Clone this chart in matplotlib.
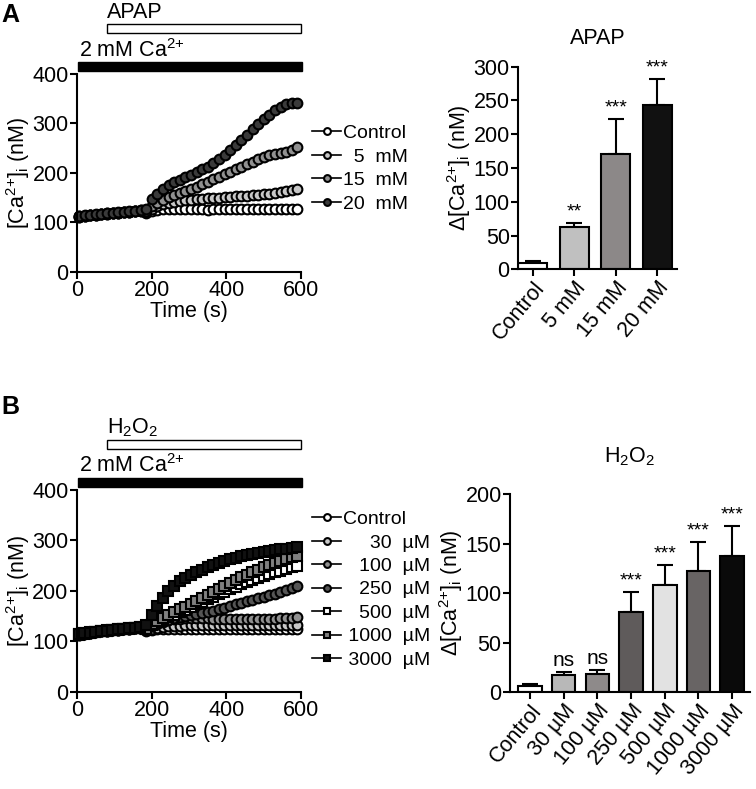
import numpy as np
import matplotlib
matplotlib.use("Agg")
from matplotlib import pyplot as plt
from matplotlib.patches import Rectangle
from matplotlib import transforms

plt.rcParams['font.family'] = ['Liberation Sans', 'DejaVu Sans']
plt.rcParams['mathtext.fontset'] = 'custom'
plt.rcParams['mathtext.rm'] = 'Liberation Sans'
plt.rcParams['mathtext.it'] = 'Liberation Sans:italic'
plt.rcParams['axes.linewidth'] = 1.5

# sample times (s)
time_s = [5, 20, 35, 50, 65, 80, 95, 110, 125, 140, 155, 170, 185, 200, 215, 230, 245, 260, 275, 290,
          305, 320, 335, 350, 365, 380, 395, 410, 425, 440, 455, 470, 485, 500, 515, 530, 545, 560, 575, 590]

# ---- panel A: APAP traces
apap_labels = ['Control', '  5  mM', '15  mM', '20  mM']
apap_ctrl = [112, 114, 115, 116, 117, 118, 119, 120, 121, 122, 123, 124,
             120, 124, 126, 127, 127, 128, 127, 127, 128, 127, 127, 126, 127, 128, 127, 127, 128, 127,
             127, 128, 127, 127, 128, 127, 127, 128, 127, 127]
apap_5 = [113, 114, 115, 116, 117, 118, 119, 120, 121, 122, 123, 124,
          121, 128, 133, 137, 140, 142, 143, 145, 146, 147, 148, 149, 150, 150, 151, 152, 153, 153,
          154, 155, 156, 157, 157, 159, 162, 164, 166, 168]
apap_15 = [112, 114, 116, 116, 117, 119, 119, 120, 122, 122, 124, 125,
           123, 133, 140, 146, 151, 156, 160, 164, 168, 172, 177, 182, 187, 192, 197, 202, 207, 213,
           218, 223, 228, 233, 236, 239, 241, 243, 246, 252]
apap_20 = [113, 115, 116, 117, 118, 119, 120, 121, 122, 123, 124, 126,
           128, 148, 158, 167, 175, 181, 186, 191, 196, 201, 207, 213, 220, 228, 237, 246, 256, 266,
           277, 288, 298, 309, 318, 327, 334, 339, 341, 342]
apap_traces = [apap_ctrl, apap_5, apap_15, apap_20]
apap_faces = ['white', '#c8c8c8', '#909090', '#3a3a3a']

# ---- panel A: APAP bars
apap_cats = ['Control', '5 mM', '15 mM', '20 mM']
apap_mean = [10, 62, 170, 243]
apap_err = [3, 7, 52, 39]
apap_sig = ['', '**', '***', '***']
apap_bar_colors = ['white', '#c0c0c0', '#8c8888', '#111111']

# ---- panel B: H2O2 traces
h2o2_labels = ['Control', '     30  µM', '   100  µM', '   250  µM', '   500  µM', ' 1000  µM', ' 3000  µM']
h2o2_ctrl = [113, 115, 117, 118, 120, 121, 122, 123, 124, 125, 126, 127,
             121, 123, 124, 124, 125, 125, 124, 125, 125, 124, 125, 125, 124, 125, 125, 124, 125, 125,
             124, 125, 125, 124, 125, 125, 124, 125, 125, 124]
h2o2_30 = [114, 116, 117, 119, 120, 121, 122, 124, 124, 125, 127, 127,
           122, 125, 127, 129, 130, 131, 131, 132, 132, 132, 132, 133, 132, 132, 133, 132, 132, 133,
           132, 132, 133, 132, 132, 133, 133, 132, 133, 132]
h2o2_100 = [113, 115, 117, 118, 120, 122, 122, 123, 125, 125, 126, 128,
            124, 130, 135, 139, 142, 144, 145, 146, 146, 146, 146, 146, 145, 145, 145, 145, 144, 144,
            144, 144, 144, 145, 145, 145, 146, 146, 147, 148]
h2o2_250 = [114, 115, 117, 119, 120, 121, 123, 123, 124, 126, 126, 127,
            124, 131, 136, 140, 143, 146, 148, 150, 152, 154, 156, 158, 161, 164, 167, 170, 173, 176,
            179, 182, 185, 188, 191, 194, 198, 202, 206, 210]
h2o2_500 = [113, 116, 117, 118, 121, 121, 122, 124, 124, 125, 127, 127,
            124, 132, 138, 143, 148, 153, 158, 163, 168, 173, 178, 183, 188, 193, 198, 203, 208, 213,
            217, 221, 225, 229, 233, 237, 240, 244, 247, 250]
h2o2_1000 = [114, 115, 118, 119, 120, 122, 122, 123, 125, 126, 126, 128,
             125, 134, 141, 147, 153, 159, 164, 169, 174, 179, 185, 191, 197, 203, 209, 215, 221, 227,
             232, 237, 242, 247, 251, 255, 259, 263, 267, 270]
h2o2_3000 = [114, 116, 117, 119, 120, 121, 123, 124, 125, 126, 127, 128,
             132, 152, 170, 186, 199, 210, 219, 226, 232, 237, 242, 247, 251, 255, 259, 263, 266, 269,
             272, 274, 276, 278, 280, 281, 283, 284, 286, 287]
h2o2_traces = [h2o2_ctrl, h2o2_30, h2o2_100, h2o2_250, h2o2_500, h2o2_1000, h2o2_3000]
h2o2_faces = ['white', '#c8c8c8', '#909090', '#555555', 'white', '#808080', '#111111']
h2o2_markers = ['o', 'o', 'o', 'o', 's', 's', 's']

# ---- panel B: H2O2 bars
h2o2_cats = ['Control', '30 µM', '100 µM', '250 µM', '500 µM', '1000 µM', '3000 µM']
h2o2_mean = [6, 17, 18, 81, 108, 122, 137]
h2o2_err = [2, 3, 4, 20, 20, 30, 31]
h2o2_sig = ['', 'ns', 'ns', '***', '***', '***', '***']
h2o2_bar_colors = ['white', '#b8b8b8', '#8e8a8a', '#5f5b5b', '#e2e2e2', '#686464', '#0a0a0a']

FS = 15.5
LEG_FS = 14
ylab_ca = r'[Ca$^{2{+}}$]$_{\mathrm{i}}$ (nM)'
ylab_dca = r'$\Delta$[Ca$^{2{+}}$]$_{\mathrm{i}}$ (nM)'


def style_axes(ax):
    ax.spines['top'].set_visible(False)
    ax.spines['right'].set_visible(False)
    ax.tick_params(direction='out', length=5, width=1.5, labelsize=FS, pad=1)


def trace_panel(ax, traces, faces, markers, labels, drug, leg_xy):
    for y, fc, mk, lb in zip(traces, faces, markers, labels):
        ax.plot(time_s, y, color='black', lw=1.2, marker=mk, ms=7, mfc=fc, mec='black', mew=1.5,
                label=lb, clip_on=False)
    ax.set_xlim(0, 600)
    ax.set_ylim(0, 400)
    ax.set_xticks([0, 200, 400, 600])
    ax.set_yticks([0, 100, 200, 300, 400])
    style_axes(ax)
    ax.set_xlabel('Time (s)', fontsize=FS, labelpad=0)
    ax.set_ylabel(ylab_ca, fontsize=FS, labelpad=0)
    # stimulus bars above the trace
    tr = transforms.blended_transform_factory(ax.transData, ax.transAxes)
    ax.add_patch(Rectangle((3, 1.015), 599, 0.045, transform=tr, facecolor='black',
                           edgecolor='black', clip_on=False))
    ax.add_patch(Rectangle((80, 1.205), 520, 0.045, transform=tr, facecolor='white',
                           edgecolor='black', lw=1, clip_on=False))
    ax.text(5, 1.12, r'2 mM Ca$^{2{+}}$', transform=tr, fontsize=FS, va='center', ha='left')
    ax.text(80, 1.31, drug, transform=tr, fontsize=FS, va='center', ha='left')
    leg = ax.legend(loc='upper left', bbox_to_anchor=leg_xy, bbox_transform=fig.transFigure,
                    frameon=False, fontsize=LEG_FS, handlelength=1.5, handletextpad=0.1,
                    borderpad=0, borderaxespad=0, labelspacing=0.3, markerscale=0.7)
    return leg


def bar_panel(ax, cats, means, errs, sigs, colors, title, title_y, ymax, ystep, xlim):
    x = np.arange(len(cats))
    ax.bar(x, means, width=0.7, color=colors, edgecolor='black', lw=1.5, zorder=2)
    ax.errorbar(x, means, yerr=[np.zeros(len(errs)), errs], fmt='none', ecolor='black',
                elinewidth=1.5, capsize=6, capthick=1.5, zorder=1)
    for xi, m, e, s in zip(x, means, errs, sigs):
        if s:
            ax.text(xi, m + e + ymax * 0.012, s, ha='center', va='bottom',
                    fontsize=15 if s == 'ns' else 14)
    ax.set_xlim(*xlim)
    ax.set_ylim(0, ymax)
    ax.set_yticks(np.arange(0, ymax + 1, ystep))
    ax.set_xticks(x)
    ax.set_xticklabels(cats, rotation=50, ha='right', rotation_mode='anchor')
    style_axes(ax)
    ax.tick_params(axis='x', length=5)
    ax.set_ylabel(ylab_dca, fontsize=FS, labelpad=0)
    ax.text(0.5, title_y, title, transform=ax.transAxes, ha='center', va='center', fontsize=FS)


fig = plt.figure(figsize=(7.56, 7.89), dpi=100)

axA1 = fig.add_axes([0.1019, 0.6553, 0.2963, 0.2510])
trace_panel(axA1, apap_traces, apap_faces, ['o'] * 4, apap_labels, 'APAP', (0.413, 0.842))

axA2 = fig.add_axes([0.6852, 0.6587, 0.2103, 0.2568])
bar_panel(axA2, apap_cats, apap_mean, apap_err, apap_sig, apap_bar_colors, 'APAP', 1.14,
          300, 50, (-0.36, 3.48))

axB1 = fig.add_axes([0.1015, 0.1233, 0.2967, 0.2556])
trace_panel(axB1, h2o2_traces, h2o2_faces, h2o2_markers, h2o2_labels, r'H$_2$O$_2$', (0.413, 0.353))

axB2 = fig.add_axes([0.6746, 0.1229, 0.3175, 0.2510])
bar_panel(axB2, h2o2_cats, h2o2_mean, h2o2_err, h2o2_sig, h2o2_bar_colors, r'H$_2$O$_2$', 1.19,
          200, 50, (-0.59, 6.53))

fig.text(0.002, 0.981, 'A', fontsize=18, fontweight='bold', va='center', ha='left')
fig.text(0.002, 0.484, 'B', fontsize=18, fontweight='bold', va='center', ha='left')

fig.savefig('out.png', dpi=100)
